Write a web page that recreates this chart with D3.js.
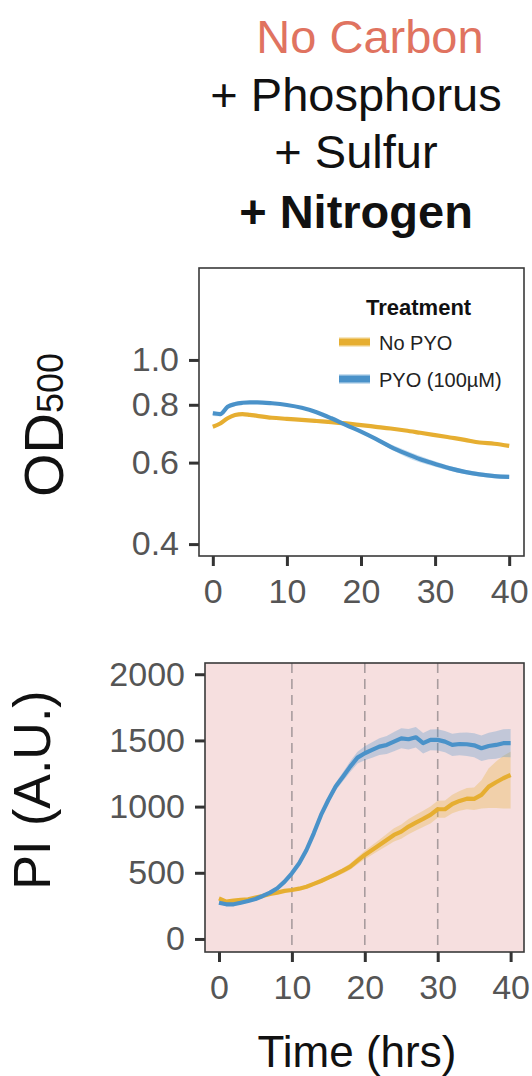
<!DOCTYPE html>
<html>
<head>
<meta charset="utf-8">
<script src="https://cdn.jsdelivr.net/npm/d3@7"></script>
<style>
  body { margin: 0; background: #fff; }
  svg { display: block; font-family: "Liberation Sans", Arial, sans-serif; }
</style>
</head>
<body>
<svg id="chart" width="532" height="1076"></svg>
<script>
// ---- data ----
const titleLines = ['No Carbon', '+ Phosphorus', '+ Sulfur', '+ Nitrogen'];
const treatments = ['No PYO', 'PYO (100µM)'];

// OD500 panel
const odTime = [0, 1, 2, 3, 4, 5, 6, 8, 10, 12, 14, 16, 18, 20, 22, 24, 26, 28, 30, 32, 34, 36, 38, 40];
const odNoPyo = [0.717, 0.729, 0.748, 0.760, 0.764, 0.761, 0.757, 0.750, 0.746, 0.742, 0.738, 0.734,
                 0.729, 0.723, 0.717, 0.711, 0.704, 0.696, 0.688, 0.680, 0.672, 0.663, 0.659, 0.652];
const odNoPyoSe = [0.006, 0.005, 0.004, 0.004, 0.004, 0.004, 0.004, 0.004, 0.004, 0.004, 0.004, 0.004,
                   0.004, 0.004, 0.004, 0.004, 0.004, 0.004, 0.004, 0.004, 0.005, 0.005, 0.005, 0.005];
const odPyo = [0.767, 0.764, 0.792, 0.803, 0.808, 0.810, 0.810, 0.806, 0.799, 0.788, 0.771, 0.748,
               0.723, 0.700, 0.675, 0.649, 0.628, 0.610, 0.596, 0.583, 0.573, 0.566, 0.561, 0.559];
const odPyoSe = [0.010, 0.008, 0.005, 0.004, 0.004, 0.004, 0.004, 0.004, 0.004, 0.004, 0.004, 0.004,
                 0.005, 0.005, 0.006, 0.008, 0.010, 0.010, 0.008, 0.007, 0.006, 0.006, 0.006, 0.006];
const odTicks = [0.4, 0.6, 0.8, 1.0];

// PI panel
const piTime = d3.range(0, 41);
const piNoPyo = [307, 282, 290, 295, 300, 312, 325, 340, 350, 363, 370, 380, 395, 416, 438, 463, 489, 516,
                 546, 592, 635, 672, 710, 748, 786, 811, 849, 879, 907, 937, 980, 980, 1020, 1043, 1060,
                 1058, 1088, 1151, 1184, 1214, 1239];
const piNoPyoLo = [295, 272, 280, 285, 290, 302, 315, 330, 340, 352, 358, 368, 382, 402, 423, 447, 470, 495,
                   522, 565, 603, 636, 670, 703, 736, 758, 792, 820, 845, 873, 915, 915, 950, 968, 980,
                   975, 985, 990, 990, 985, 985];
const piNoPyoHi = [320, 292, 300, 305, 310, 322, 335, 350, 360, 374, 382, 392, 408, 430, 453, 479, 508, 537,
                   570, 619, 667, 708, 750, 793, 836, 864, 906, 938, 969, 1001, 1045, 1047, 1090, 1118, 1140,
                   1145, 1200, 1290, 1340, 1385, 1415];
const piPyo = [274, 262, 262, 274, 287, 302, 325, 350, 383, 433, 496, 572, 672, 798, 937, 1050, 1151, 1226,
               1302, 1370, 1403, 1428, 1453, 1466, 1491, 1516, 1509, 1524, 1479, 1504, 1504, 1491, 1466,
               1473, 1471, 1463, 1441, 1458, 1466, 1479, 1479];
const piPyoLo = [262, 250, 250, 262, 275, 290, 312, 337, 369, 418, 480, 555, 653, 777, 914, 1025, 1122, 1192,
                 1262, 1325, 1350, 1370, 1390, 1398, 1418, 1440, 1432, 1446, 1402, 1425, 1424, 1410, 1382,
                 1388, 1383, 1372, 1345, 1358, 1362, 1374, 1372];
const piPyoHi = [286, 274, 274, 286, 299, 314, 338, 363, 397, 448, 512, 589, 691, 819, 960, 1075, 1180, 1260,
                 1342, 1415, 1456, 1486, 1516, 1534, 1564, 1592, 1586, 1602, 1556, 1583, 1584, 1572, 1550,
                 1558, 1559, 1554, 1537, 1558, 1570, 1584, 1586];
const piTicks = [0, 500, 1000, 1500, 2000];
const piMarks = [10, 20, 30];
const timeTicks = [0, 10, 20, 30, 40];

// ---- drawing ----
const colors = ['#E6AE31', '#4A92C9'];
const svg = d3.select('#chart');
const font = '"Liberation Sans", Arial, sans-serif';

// title block
const title = svg.append('g').attr('class', 'title');
const titleX = [370, 356, 356, 356];
const titleY = [53, 111, 168, 228];
title.selectAll('text')
  .data(titleLines)
  .enter().append('text')
    .attr('x', (d, i) => titleX[i])
    .attr('y', (d, i) => titleY[i])
    .attr('text-anchor', 'middle')
    .attr('font-size', 47)
    .attr('font-weight', (d, i) => i === 3 ? 'bold' : 'normal')
    .attr('fill', (d, i) => i === 0 ? '#E07360' : '#111')
    .text(d => d);

function drawAxes(g, x, y, yTickVals, yFmt, box) {
  // y ticks
  const ya = g.append('g').attr('transform', `translate(${box.left},0)`)
    .call(d3.axisLeft(y).tickValues(yTickVals).tickSize(10).tickPadding(10).tickFormat(yFmt));
  const xa = g.append('g').attr('transform', `translate(0,${box.bottom})`)
    .call(d3.axisBottom(x).tickValues(timeTicks).tickSize(10).tickPadding(10));
  [ya, xa].forEach(a => {
    a.select('.domain').remove();
    a.selectAll('.tick line').attr('stroke', '#333').attr('stroke-width', 3);
    a.selectAll('.tick text')
      .attr('fill', '#555')
      .attr('font-size', 34)
      .attr('font-family', font);
  });
  xa.selectAll('.tick text').attr('dy', '0.8em');
  // frame
  g.append('rect')
    .attr('x', box.left).attr('y', box.top)
    .attr('width', box.right - box.left).attr('height', box.bottom - box.top)
    .attr('fill', 'none').attr('stroke', '#3a3a3a').attr('stroke-width', 1.6);
}

/* top panel: OD500, log scale */
const topBox = { left: 199, right: 524, top: 268, bottom: 556 };
const xTop = d3.scaleLinear().domain([-2, 42]).range([198, 524]);
const yTop = d3.scaleLog().domain([0.377, 1.58]).range([topBox.bottom, topBox.top]);
const gTop = svg.append('g');

const odSeries = [
  { vals: odNoPyo, se: odNoPyoSe },
  { vals: odPyo, se: odPyoSe }
];
odSeries.forEach((s, k) => {
  const rows = odTime.map((t, i) => ({ t, v: s.vals[i], lo: s.vals[i] - s.se[i], hi: s.vals[i] + s.se[i] }));
  gTop.append('path')
    .datum(rows)
    .attr('fill', colors[k]).attr('opacity', 0.3)
    .attr('d', d3.area().curve(d3.curveMonotoneX)
      .x(d => xTop(d.t)).y0(d => yTop(d.lo)).y1(d => yTop(d.hi)));
  gTop.append('path')
    .datum(rows)
    .attr('fill', 'none').attr('stroke', colors[k]).attr('stroke-width', 4.2)
    .attr('d', d3.line().curve(d3.curveMonotoneX).x(d => xTop(d.t)).y(d => yTop(d.v)));
});
drawAxes(gTop, xTop, yTop, odTicks, d3.format('.1f'), topBox);

// legend
const legend = gTop.append('g').attr('transform', 'translate(339,0)');
legend.append('text')
  .attr('x', 27).attr('y', 315)
  .attr('font-size', 22).attr('font-weight', 'bold').attr('fill', '#111')
  .text('Treatment');
treatments.forEach((name, k) => {
  const cy = 342 + k * 37;
  legend.append('rect')
    .attr('x', 0).attr('y', cy - 5).attr('width', 31).attr('height', 10)
    .attr('fill', colors[k]).attr('opacity', 0.3);
  legend.append('line')
    .attr('x1', 0).attr('x2', 31).attr('y1', cy).attr('y2', cy)
    .attr('stroke', colors[k]).attr('stroke-width', 7);
  legend.append('text')
    .attr('x', 40).attr('y', cy + 8)
    .attr('font-size', 20).attr('fill', '#222')
    .text(name);
});

// OD500 label
svg.append('text')
  .attr('transform', 'translate(63,425) rotate(-90)')
  .attr('text-anchor', 'middle')
  .attr('font-size', 56).attr('fill', '#111')
  .call(t => {
    t.append('tspan').text('OD');
    t.append('tspan').attr('font-size', 36).text('500');
  });

/* bottom panel: PI */
const botBox = { left: 205, right: 524, top: 663, bottom: 952 };
const xBot = d3.scaleLinear().domain([-2, 42]).range([204.4, 525.2]);
const yBot = d3.scaleLinear().domain([-100, 2100]).range([952.2, 661]);
const gBot = svg.append('g');

gBot.append('rect')
  .attr('x', botBox.left).attr('y', botBox.top)
  .attr('width', botBox.right - botBox.left).attr('height', botBox.bottom - botBox.top)
  .attr('fill', '#F6DFDF');

gBot.selectAll('line.mark')
  .data(piMarks)
  .enter().append('line')
    .attr('class', 'mark')
    .attr('x1', d => xBot(d)).attr('x2', d => xBot(d))
    .attr('y1', botBox.top).attr('y2', botBox.bottom)
    .attr('stroke', '#A89C9E').attr('stroke-width', 1.6)
    .attr('stroke-dasharray', '10,6');

const piSeries = [
  { vals: piNoPyo, lo: piNoPyoLo, hi: piNoPyoHi },
  { vals: piPyo, lo: piPyoLo, hi: piPyoHi }
];
piSeries.forEach((s, k) => {
  const rows = piTime.map((t, i) => ({ t, v: s.vals[i], lo: s.lo[i], hi: s.hi[i] }));
  gBot.append('path')
    .datum(rows)
    .attr('fill', colors[k]).attr('opacity', 0.3)
    .attr('d', d3.area().x(d => xBot(d.t)).y0(d => yBot(d.lo)).y1(d => yBot(d.hi)));
  gBot.append('path')
    .datum(rows)
    .attr('fill', 'none').attr('stroke', colors[k]).attr('stroke-width', 4.2)
    .attr('stroke-linejoin', 'round')
    .attr('d', d3.line().x(d => xBot(d.t)).y(d => yBot(d.v)));
});
drawAxes(gBot, xBot, yBot, piTicks, d3.format('d'), botBox);

svg.append('text')
  .attr('transform', 'translate(50,790) rotate(-90)')
  .attr('text-anchor', 'middle')
  .attr('font-size', 52).attr('fill', '#111')
  .text('PI (A.U.)');

svg.append('text')
  .attr('x', 357).attr('y', 1067)
  .attr('text-anchor', 'middle')
  .attr('font-size', 44).attr('fill', '#111')
  .text('Time (hrs)');
</script>
</body>
</html>
